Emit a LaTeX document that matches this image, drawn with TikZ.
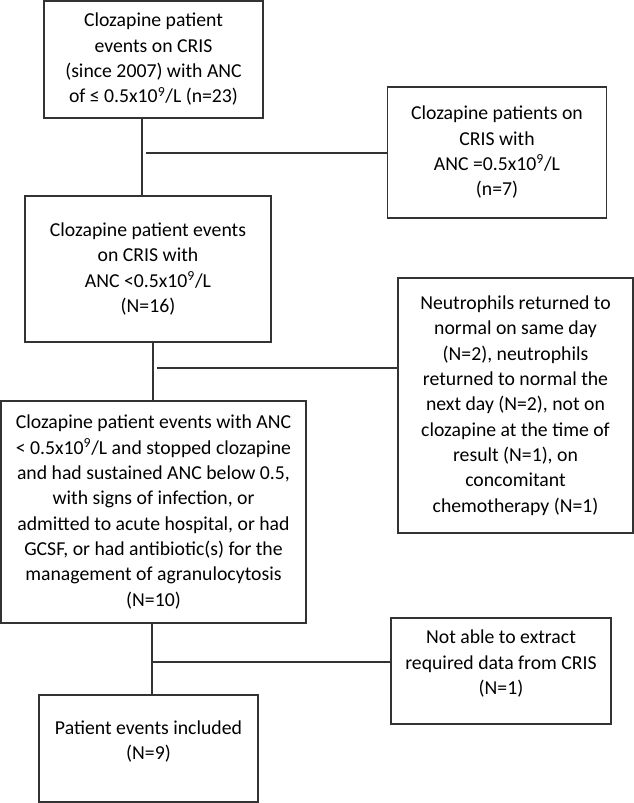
\documentclass[tikz,border=0pt]{standalone}
\usepackage{fontspec}
\setmainfont{Carlito}
\usepackage{tikz}

\tikzset{
    box/.style={draw=black!80, line width=0.9pt, align=center, inner sep=0pt,
        font=\fontsize{14.8}{19}\selectfont},
    link/.style={draw=black!80, line width=0.9pt}
}

\begin{document}
\begin{tikzpicture}[x=0.75pt, y=-0.75pt]
    \useasboundingbox (0,0) rectangle (634,803);

    \node[box, minimum width=164.25pt, minimum height=87.75pt] (clz) at (153.5,59.5)
        {Clozapine patient\\events on CRIS\\(since 2007) with ANC\\of ≤ 0.5x10\textsuperscript{9}/L (n=23)};
    \node[box, minimum width=164.6pt, minimum height=98.25pt] (eq) at (497,152.5)
        {Clozapine patients on\\CRIS with\\ANC =0.5x10\textsuperscript{9}/L\\(n=7)};
    \node[box, minimum width=184.5pt, minimum height=109.5pt] (lt) at (148,269)
        {Clozapine patient events\\on CRIS with\\ANC <0.5x10\textsuperscript{9}/L\\(N=16)};
    \node[box, minimum width=176.25pt, minimum height=191.25pt] (neu) at (515.5,405.5)
        {Neutrophils returned to\\normal on same day\\(N=2), neutrophils\\returned to normal the\\next day (N=2), not on\\clozapine at the time of\\result (N=1), on\\concomitant\\chemotherapy (N=1)};
    \node[box, minimum width=228.75pt, minimum height=166.5pt] (sus) at (153.5,512)
        {Clozapine patient events with ANC\\< 0.5x10\textsuperscript{9}/L and stopped clozapine\\and had sustained ANC below 0.5,\\with signs of infection, or\\admitted to acute hospital, or had\\GCSF, or had antibiotic(s) for the\\management of agranulocytosis\\(N=10)};
    \node[box, minimum width=165pt, minimum height=79.5pt] (nodata) at (501,671)
        {Not able to extract\\required data from CRIS\\(N=1)\\[-6pt]\mbox{}};
    \node[box, minimum width=164.25pt, minimum height=80.25pt] (inc) at (148.5,748.5)
        {Patient events included\\(N=9)\\[-6pt]\mbox{}};

    % junctions on the main line
    \coordinate (j1) at (142,153);
    \coordinate (j2) at (153,368);
    \coordinate (j3) at (152,662);

    \draw[link] (j1 |- clz.south) -- (j1 |- lt.north);
    \draw[link] ([xshift=3pt]j1) -- (j1 -| eq.west);

    \draw[link] (j2 |- lt.south) -- (j2 |- sus.north);
    \draw[link] ([xshift=3pt]j2) -- (j2 -| neu.west);

    \draw[link] (j3 |- sus.south) -- (j3 |- inc.north);
    \draw[link] (j3) -- (j3 -| nodata.west);

\end{tikzpicture}
\end{document}
